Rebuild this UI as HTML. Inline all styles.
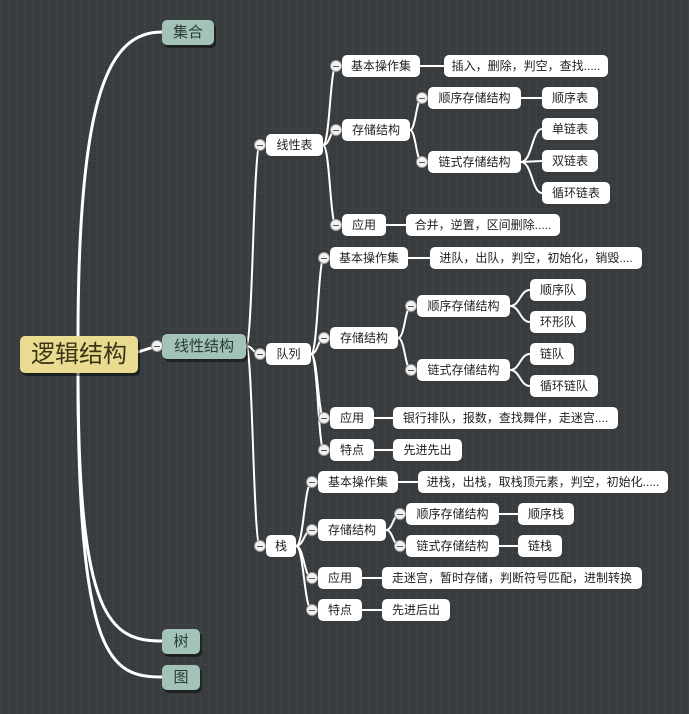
<!DOCTYPE html>
<html><head><meta charset="utf-8"><style>
html,body{margin:0;padding:0}
body{width:689px;height:714px;position:relative;overflow:hidden;background-color:#383c3e;
background-image:linear-gradient(rgba(255,255,255,0.025) 1px,transparent 1px),linear-gradient(90deg,rgba(255,255,255,0.025) 1px,transparent 1px);background-size:8px 8px;
font-family:"Liberation Sans","Noto Sans CJK SC",sans-serif}
.n{position:absolute;background:#fff;border-radius:5px;font-size:12px;height:22px;line-height:22px;text-align:center;color:#222;white-space:nowrap}
.t{position:absolute;background:#a3c2b8;border-radius:5px;font-size:15px;height:25px;line-height:25px;text-align:center;color:#2a3a36;box-shadow:2px 3px 0 rgba(0,0,0,.45)}
.c{position:absolute;width:10px;height:10px;border-radius:50%;background:#f2f2f2;border:1px solid #999}
.c:after{content:"";position:absolute;left:2px;top:4.5px;width:6px;height:1px;background:#555}
svg{position:absolute;left:0;top:0}
</style></head><body>
<svg width="689" height="714" fill="none" stroke="#fff" stroke-width="2">
<path stroke-width="3" d="M78,340 C78,90 110,32 162,32"/>
<path stroke-width="3" d="M78,372 C78,620 110,641 162,641"/>
<path stroke-width="3" d="M78,372 C78,660 110,677 162,677"/>
<path stroke-width="3" d="M138,352 L157,346"/>
<path d="M246,346 C253,346 253,145 260,145"/>
<path d="M246,346 C253,346 253,354 260,354"/>
<path d="M246,346 C253,346 253,546 260,546"/>
<path d="M323,145 C330,145 330,66 336,66"/>
<path d="M323,145 C330,145 330,130 336,130"/>
<path d="M323,145 C330,145 330,225 336,225"/>
<path d="M420,66 L444,66"/>
<path d="M410,130 C416,130 416,98 422,98"/>
<path d="M410,130 C416,130 416,162 422,162"/>
<path d="M521,98 L542,98"/>
<path d="M521,162 C532,162 532,129 542,129"/>
<path d="M521,162 L542,161"/>
<path d="M521,162 C532,162 532,193 542,193"/>
<path d="M386,225 L406,225"/>
<path d="M311,354 C318,354 318,258 324,258"/>
<path d="M311,354 C318,354 318,338 324,338"/>
<path d="M311,354 C318,354 318,418 324,418"/>
<path d="M311,354 C318,354 318,450 324,450"/>
<path d="M408,258 L430,258"/>
<path d="M398,338 C405,338 405,306 411,306"/>
<path d="M398,338 C405,338 405,370 411,370"/>
<path d="M510,306 C520,306 520,290 530,290"/>
<path d="M510,306 C520,306 520,322 530,322"/>
<path d="M510,370 C520,370 520,354 530,354"/>
<path d="M510,370 C520,370 520,386 530,386"/>
<path d="M374,418 L393,418"/>
<path d="M374,450 L393,450"/>
<path d="M296,546 C304,546 304,482 312,482"/>
<path d="M296,546 C304,546 304,530 312,530"/>
<path d="M296,546 C304,546 304,578 312,578"/>
<path d="M296,546 C304,546 304,610 312,610"/>
<path d="M398,482 L418,482"/>
<path d="M386,530 C393,530 393,514 400,514"/>
<path d="M386,530 C393,530 393,546 400,546"/>
<path d="M499,514 L518,514"/>
<path d="M499,546 L518,546"/>
<path d="M362,578 L382,578"/>
<path d="M362,610 L382,610"/>
</svg>

<div style="position:absolute;left:20px;top:336px;width:118px;height:37px;line-height:37px;background:#e9dc90;border-radius:5px;text-align:center;font-size:24px;color:#3a3316;box-shadow:2px 3px 0 rgba(0,0,0,.45)">逻辑结构</div>
<div class="t" style="left:162px;top:334px;width:84px">线性结构</div>
<div class="t" style="left:162px;top:20px;width:52px">集合</div>
<div class="t" style="left:162px;top:629px;width:38px">树</div>
<div class="t" style="left:162px;top:665px;width:38px">图</div>

<div class="n" style="left:266px;top:134px;width:57px">线性表</div>
<div class="n" style="left:266px;top:343px;width:45px">队列</div>
<div class="n" style="left:266px;top:535px;width:30px">栈</div>

<div class="n" style="left:342px;top:55px;width:78px">基本操作集</div>
<div class="n" style="left:444px;top:55px;width:164px">插入，删除，判空，查找.....</div>
<div class="n" style="left:342px;top:119px;width:68px">存储结构</div>
<div class="n" style="left:428px;top:87px;width:93px">顺序存储结构</div>
<div class="n" style="left:542px;top:87px;width:56px">顺序表</div>
<div class="n" style="left:428px;top:151px;width:93px">链式存储结构</div>
<div class="n" style="left:542px;top:118px;width:56px">单链表</div>
<div class="n" style="left:542px;top:150px;width:56px">双链表</div>
<div class="n" style="left:542px;top:182px;width:68px">循环链表</div>
<div class="n" style="left:342px;top:214px;width:44px">应用</div>
<div class="n" style="left:406px;top:214px;width:154px">合并，逆置，区间删除.....</div>

<div class="n" style="left:330px;top:247px;width:78px">基本操作集</div>
<div class="n" style="left:430px;top:247px;width:212px">进队，出队，判空，初始化，销毁....</div>
<div class="n" style="left:330px;top:327px;width:68px">存储结构</div>
<div class="n" style="left:417px;top:295px;width:93px">顺序存储结构</div>
<div class="n" style="left:530px;top:279px;width:56px">顺序队</div>
<div class="n" style="left:530px;top:311px;width:56px">环形队</div>
<div class="n" style="left:417px;top:359px;width:93px">链式存储结构</div>
<div class="n" style="left:530px;top:343px;width:44px">链队</div>
<div class="n" style="left:530px;top:375px;width:68px">循环链队</div>
<div class="n" style="left:330px;top:407px;width:44px">应用</div>
<div class="n" style="left:393px;top:407px;width:225px">银行排队，报数，查找舞伴，走迷宫....</div>
<div class="n" style="left:330px;top:439px;width:44px">特点</div>
<div class="n" style="left:393px;top:439px;width:69px">先进先出</div>

<div class="n" style="left:318px;top:471px;width:80px">基本操作集</div>
<div class="n" style="left:418px;top:471px;width:250px">进栈，出栈，取栈顶元素，判空，初始化.....</div>
<div class="n" style="left:318px;top:519px;width:68px">存储结构</div>
<div class="n" style="left:406px;top:503px;width:93px">顺序存储结构</div>
<div class="n" style="left:518px;top:503px;width:56px">顺序栈</div>
<div class="n" style="left:406px;top:535px;width:93px">链式存储结构</div>
<div class="n" style="left:518px;top:535px;width:44px">链栈</div>
<div class="n" style="left:318px;top:567px;width:44px">应用</div>
<div class="n" style="left:382px;top:567px;width:260px">走迷宫，暂时存储，判断符号匹配，进制转换</div>
<div class="n" style="left:318px;top:599px;width:44px">特点</div>
<div class="n" style="left:382px;top:599px;width:68px">先进后出</div>

<div class="c" style="left:151px;top:340px"></div>
<div class="c" style="left:254px;top:139px"></div>
<div class="c" style="left:254px;top:348px"></div>
<div class="c" style="left:254px;top:540px"></div>
<div class="c" style="left:330px;top:60px"></div>
<div class="c" style="left:330px;top:124px"></div>
<div class="c" style="left:330px;top:219px"></div>
<div class="c" style="left:416px;top:92px"></div>
<div class="c" style="left:416px;top:156px"></div>
<div class="c" style="left:318px;top:252px"></div>
<div class="c" style="left:318px;top:332px"></div>
<div class="c" style="left:318px;top:412px"></div>
<div class="c" style="left:318px;top:444px"></div>
<div class="c" style="left:405px;top:300px"></div>
<div class="c" style="left:405px;top:364px"></div>
<div class="c" style="left:306px;top:476px"></div>
<div class="c" style="left:306px;top:524px"></div>
<div class="c" style="left:306px;top:572px"></div>
<div class="c" style="left:306px;top:604px"></div>
<div class="c" style="left:394px;top:508px"></div>
<div class="c" style="left:394px;top:540px"></div>
</body></html>
